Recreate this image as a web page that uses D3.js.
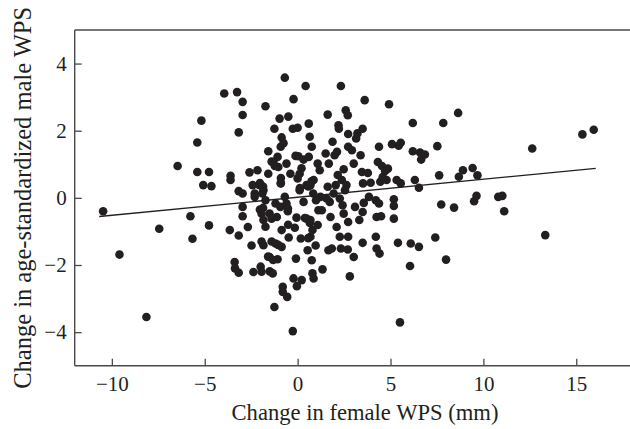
<!DOCTYPE html>
<html>
<head>
<meta charset="utf-8">
<script src="https://cdn.jsdelivr.net/npm/d3@7"></script>
<style>
  html, body { margin: 0; padding: 0; background: #fff; }
  svg { display: block; }
  text { font-family: "Liberation Serif", "Times New Roman", serif; fill: #231f20; }
</style>
</head>
<body>
<svg id="chart" width="630" height="429"></svg>
<script>
// ---- data ----
const femaleChange = [
-10.47,-9.59,-8.14,-7.45,-6.46,-5.77,-5.66,-5.40,-5.40,-5.18,-5.08,-4.77,-4.77,-4.64,-3.95,-3.65,-3.61,-3.61,-3.39,-3.37,
-3.26,-3.17,-3.17,-3.17,-3.17,-2.96,-2.96,-2.96,-2.96,-2.96,-2.68,-2.59,-2.48,-2.38,-2.42,-2.31,-2.31,-2.16,-2.05,-1.99,
-1.94,-1.94,-1.90,-1.84,-1.84,-1.84,-1.73,-1.73,-1.73,-1.58,-1.58,-1.51,-1.51,-1.40,-1.34,-1.30,-1.25,-1.25,-1.19,-1.19,
-1.12,-1.08,-1.08,-1.04,-0.97,-0.93,-0.91,-0.91,-0.86,-0.86,-0.86,-0.80,-0.80,-0.76,-0.69,-0.69,-0.60,-0.60,-0.56,-0.52,
-0.50,-0.48,-0.39,-0.26,-0.22,-0.22,-0.26,-0.15,-0.11,-0.09,-0.06,-0.04,0.00,0.00,0.04,0.11,0.11,0.17,0.22,0.32,
0.32,0.43,0.48,0.48,0.54,0.60,0.60,0.65,0.69,0.69,0.69,0.76,0.76,0.80,0.80,0.84,0.86,0.86,0.97,0.99,
1.08,1.08,1.12,1.19,1.23,1.30,1.34,1.51,1.56,1.62,1.62,1.66,1.68,1.73,1.77,1.84,1.88,1.94,1.99,2.05,
2.10,2.12,2.16,2.20,2.22,2.27,2.27,2.33,2.33,2.38,2.42,2.48,2.48,2.55,2.59,2.63,2.70,2.70,2.72,2.72,
2.72,2.72,2.81,2.92,3.02,3.02,3.09,3.15,3.22,3.32,3.39,3.46,3.50,3.50,3.50,3.52,3.56,3.61,3.78,3.84,
3.93,4.21,4.21,4.25,4.25,4.32,4.38,4.38,4.41,4.45,4.49,4.54,4.58,4.71,4.79,4.86,4.92,5.08,5.18,5.18,
5.18,5.33,5.40,5.44,5.51,5.55,5.55,6.09,6.05,6.20,6.20,6.31,6.53,6.53,6.59,6.65,6.85,7.41,7.52,7.62,
7.73,7.84,7.99,8.42,8.64,8.68,8.90,9.42,9.50,9.63,9.68,10.80,11.02,11.12,12.63,13.33,15.33,15.94,
-1.40,-1.23,0.21,-0.90,-0.90,-2.03,-1.86,0.12,0.57,0.75,-2.03,-1.86,-0.53,0.39,0.66,-0.51,-1.94,-1.40,-1.05,0.57,
-1.59,-1.32,-1.50
];
const maleChange = [
-0.40,-1.69,-3.55,-0.92,0.95,-0.55,-1.22,1.65,0.77,2.30,0.38,0.77,-0.82,0.35,3.11,-0.96,0.66,0.53,-1.91,-2.10,
3.15,1.95,-1.12,0.20,-2.23,2.86,2.47,0.13,-0.27,-0.55,-0.87,0.76,-1.42,-2.21,0.38,0.13,0.03,0.82,0.38,-2.05,
-2.20,-0.47,0.13,-0.66,-1.41,0.23,2.73,-0.86,-0.07,1.39,0.72,-1.76,-0.47,-0.62,-2.25,1.07,-3.25,2.06,-0.17,-1.36,
-0.57,-1.83,1.22,0.92,2.36,-0.27,0.43,1.52,1.80,-0.96,-1.46,-2.65,-2.80,1.63,0.03,3.58,1.02,-0.17,-2.95,-0.32,
2.42,-1.18,0.72,2.06,2.94,-2.40,-3.97,-0.89,1.25,-1.81,-0.59,-2.63,2.09,0.58,1.24,0.72,0.23,-1.21,-2.45,-0.12,
1.14,3.33,0.38,-0.62,-1.56,2.21,1.22,1.82,0.38,-0.66,-1.16,1.52,-1.86,-0.96,-2.25,0.13,0.53,-2.40,-1.42,-0.07,
1.02,-0.81,-0.37,0.82,0.03,-0.37,-2.13,1.32,-0.02,0.33,2.48,-1.56,1.02,-0.12,-0.57,-1.51,1.67,0.13,1.27,0.38,
-0.87,1.37,0.68,2.16,2.06,-1.16,-0.02,-1.51,3.33,0.53,-0.22,0.85,-0.47,0.23,2.61,0.38,-1.54,2.46,1.52,-0.72,
-1.16,1.90,-2.34,1.42,1.02,-1.76,-0.27,1.77,1.92,-0.66,1.27,0.77,2.06,-1.34,-0.42,0.43,-0.15,2.91,0.74,0.03,
0.45,-0.07,-1.16,-0.57,-1.51,1.07,1.52,-0.17,-1.66,0.48,-0.55,0.95,0.62,0.80,0.53,0.87,2.79,1.60,-0.04,-0.24,
-0.62,0.53,-1.34,1.55,-3.71,1.64,0.43,-1.36,-2.03,2.23,1.39,0.53,0.30,-1.46,1.35,1.14,1.29,-1.18,1.54,0.67,
-0.20,2.23,-1.84,-0.29,2.53,0.63,0.82,0.89,-0.10,0.06,0.67,0.03,0.06,-0.40,1.47,-1.11,1.89,2.03,
1.08,0.95,0.88,0.59,0.44,0.44,0.34,0.29,0.34,0.49,-0.35,-0.30,-0.40,-0.60,-0.75,-0.80,-1.30,-1.30,-1.40,-1.20,
-1.75,-1.85,-2.19
];
const fitX = [-10.68, 16.05];
const fitY = [-0.556, 0.88];
const xTicks = [-10, -5, 0, 5, 10, 15];
const yTicks = [-4, -2, 0, 2, 4];
const xDomain = [-12, 18];
const yDomain = [-5, 5];
const xTitle = "Change in female WPS (mm)";
const yTitle = "Change in age-standardized male WPS";

// ---- layout ----
const svg = d3.select("#chart");
const mLeft = 74.7, mRight = 632, mTop = 30, mBottom = 365.7;
const x = d3.scaleLinear().domain(xDomain).range([mLeft, mRight]);
const y = d3.scaleLinear().domain(yDomain).range([mBottom, mTop]);
const axisColor = "#4a4a4a";

// points
const pts = femaleChange.map((v, i) => ({ x: v, y: maleChange[i] }));
svg.append("g").selectAll("circle").data(pts).join("circle")
  .attr("cx", d => x(d.x)).attr("cy", d => y(d.y))
  .attr("r", 4.3).attr("fill", "#231f20");

// regression line
svg.append("path")
  .datum(fitX.map((v, i) => [v, fitY[i]]))
  .attr("d", d3.line().x(d => x(d[0])).y(d => y(d[1])))
  .attr("stroke", "#231f20").attr("stroke-width", 1.3).attr("fill", "none");

// axes
const xAxis = d3.axisBottom(x).tickValues(xTicks).tickSizeInner(-7).tickSizeOuter(0)
  .tickPadding(10).tickFormat(d3.format("d"));
const gx = svg.append("g").attr("transform", `translate(0,${mBottom})`).call(xAxis);
const yAxis = d3.axisLeft(y).tickValues(yTicks).tickSizeInner(-7).tickSizeOuter(0)
  .tickPadding(8).tickFormat(d3.format("d"));
const gy = svg.append("g").attr("transform", `translate(${mLeft},0)`).call(yAxis);
[gx, gy].forEach(g => {
  g.select(".domain").attr("stroke", axisColor).attr("stroke-width", 1.4);
  g.selectAll(".tick line").attr("stroke", axisColor).attr("stroke-width", 1.3);
  g.selectAll(".tick text").attr("font-family", "Liberation Serif").attr("font-size", 21).attr("fill", "#231f20");
});
gx.select(".domain").attr("d", `M${mLeft},0H${mRight}`);
gy.select(".domain").attr("d", `M0,${mBottom}V${mTop}`);
// top frame
svg.append("line").attr("x1", mLeft).attr("x2", mRight).attr("y1", mTop).attr("y2", mTop)
  .attr("stroke", axisColor).attr("stroke-width", 1.4);

// titles
svg.append("text").attr("x", 365).attr("y", 420)
  .attr("text-anchor", "middle").attr("font-size", 22.6).text(xTitle);
svg.append("text").attr("transform", `translate(31,${(mTop + mBottom) / 2}) rotate(-90)`)
  .attr("text-anchor", "middle").attr("font-size", 24.5).text(yTitle);
</script>
</body>
</html>
